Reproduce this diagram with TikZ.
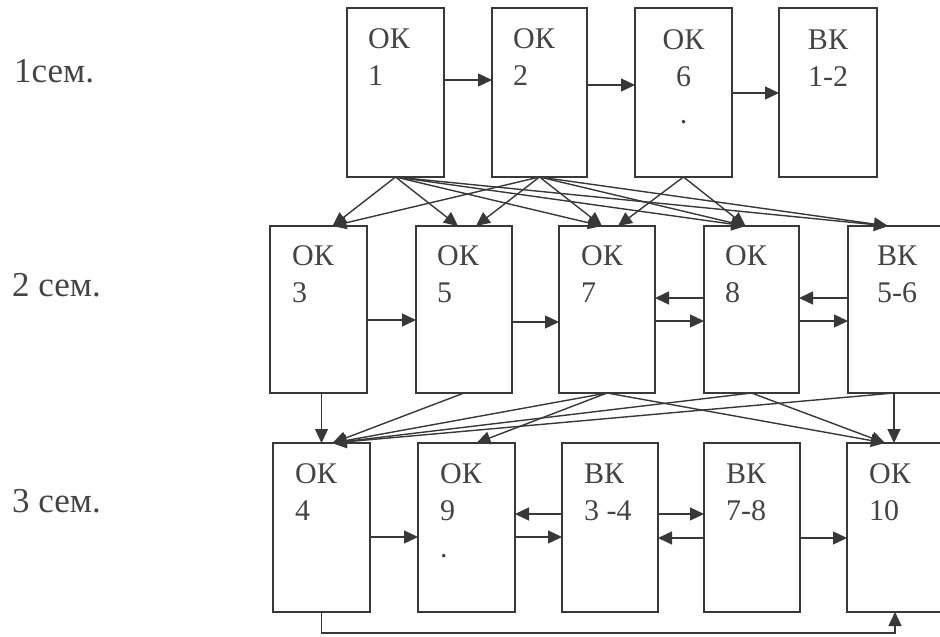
\documentclass[tikz,border=0pt]{standalone}
\usepackage{fontspec}
\setmainfont{Liberation Serif}
\usetikzlibrary{arrows.meta,calc}
\definecolor{linec}{HTML}{383838}
\definecolor{textc}{HTML}{444444}
\newcommand\mylstack[1]{\vtop{\halign{##\hfil\cr#1\crcr}}}
\newcommand\mycstack[1]{\vtop{\halign{\hfil##\hfil\cr#1\crcr}}}
\tikzset{
  cbox/.style={draw=linec, line width=1.6pt, minimum width=#1, minimum height=169pt,
    inner sep=0pt, outer sep=0pt, anchor=north west},
  txt/.style={text=textc, inner sep=0pt, font=\fontsize{30}{37}\selectfont},
  sem/.style={text=textc, inner sep=0pt, anchor=base west, font=\fontsize{35}{40}\selectfont},
  arr/.style={draw=linec, line width=1.4pt, -{Triangle[length=14pt,width=13pt]}},
}
\begin{document}
\begin{tikzpicture}[x=1pt,y=-1pt]
\useasboundingbox (0,0) rectangle (940,637);
\clip (0,0) rectangle (940,637);
% semester labels
\node[sem] (s1) at (14,82) {1сем.};
\node[sem] (s2) at (12,296) {2 сем.};
\node[sem] (s3) at (12,512) {3 сем.};
% row 1
\node[cbox=97pt] (ok1) at (347,8) {};
\node[cbox=95pt] (ok2) at (492,8) {};
\node[cbox=97pt] (ok6) at (635,8) {};
\node[cbox=98pt] (bk12) at (779,8) {};
% row 2
\node[cbox=97pt, minimum height=167pt] (ok3) at (270,226) {};
\node[cbox=96pt, minimum height=167pt] (ok5) at (416,226) {};
\node[cbox=96pt, minimum height=167pt] (ok7) at (559,226) {};
\node[cbox=95pt, minimum height=167pt] (ok8) at (704,226) {};
\node[cbox=96pt, minimum height=167pt] (bk56) at (848,226) {};
% row 3
\node[cbox=97pt] (ok4) at (273,443) {};
\node[cbox=97pt] (ok9) at (418,443) {};
\node[cbox=96pt] (bk34) at (562,443) {};
\node[cbox=96pt] (bk78) at (704,443) {};
\node[cbox=96pt] (ok10) at (847,443) {};
% texts
\node[txt, anchor=base west] (t1) at ([xshift=21pt,yshift=-40pt]ok1.north west) {\mylstack{ОК\cr 1}};
\node[txt, anchor=base west] (t2) at ([xshift=21pt,yshift=-40pt]ok2.north west) {\mylstack{ОК\cr 2}};
\node[txt, anchor=base] (t6) at ([yshift=-41pt]ok6.north) {\mycstack{ОК\cr 6\cr .}};
\node[txt, anchor=base] (t12) at ([yshift=-41pt]bk12.north) {\mycstack{ВК\cr 1-2}};
\node[txt, anchor=base west] (t3) at ([xshift=22pt,yshift=-39pt]ok3.north west) {\mylstack{ОК\cr 3}};
\node[txt, anchor=base west] (t5) at ([xshift=21pt,yshift=-39pt]ok5.north west) {\mylstack{ОК\cr 5}};
\node[txt, anchor=base west] (t7) at ([xshift=22pt,yshift=-39pt]ok7.north west) {\mylstack{ОК\cr 7}};
\node[txt, anchor=base west] (t8) at ([xshift=21pt,yshift=-39pt]ok8.north west) {\mylstack{ОК\cr 8}};
\node[txt, anchor=base west] (t56) at ([xshift=29pt,yshift=-39pt]bk56.north west) {\mylstack{ВК\cr 5-6}};
\node[txt, anchor=base west] (t4) at ([xshift=22pt,yshift=-40pt]ok4.north west) {\mylstack{ОК\cr 4}};
\node[txt, anchor=base west] (t9) at ([xshift=22pt,yshift=-40pt]ok9.north west) {\mylstack{ОК\cr 9\cr .}};
\node[txt, anchor=base west] (t34) at ([xshift=22pt,yshift=-40pt]bk34.north west) {\mylstack{ВК\cr 3 -4}};
\node[txt, anchor=base west] (t78) at ([xshift=22pt,yshift=-40pt]bk78.north west) {\mylstack{ВК\cr 7-8}};
\node[txt, anchor=base west] (t10) at ([xshift=22pt,yshift=-40pt]ok10.north west) {\mylstack{ОК\cr 10}};
% horizontal arrows, row 1
\draw[arr] ([yshift=-72pt]ok1.north east) -- ([yshift=-72pt]ok2.north west);
\draw[arr] ([yshift=-77pt]ok2.north east) -- ([yshift=-77pt]ok6.north west);
\draw[arr] ([yshift=-85pt]ok6.north east) -- ([yshift=-85pt]bk12.north west);
% row 2
\draw[arr] ([yshift=-94pt]ok3.north east) -- ([yshift=-94pt]ok5.north west);
\draw[arr] ([yshift=-96pt]ok5.north east) -- ([yshift=-96pt]ok7.north west);
\draw[arr] ([yshift=-72pt]ok8.north west) -- ([yshift=-72pt]ok7.north east);
\draw[arr] ([yshift=-95pt]ok7.north east) -- ([yshift=-95pt]ok8.north west);
\draw[arr] ([yshift=-72pt]bk56.north west) -- ([yshift=-72pt]ok8.north east);
\draw[arr] ([yshift=-95pt]ok8.north east) -- ([yshift=-95pt]bk56.north west);
% row 3
\draw[arr] ([yshift=-94pt]ok4.north east) -- ([yshift=-94pt]ok9.north west);
\draw[arr] ([yshift=-71pt]bk34.north west) -- ([yshift=-71pt]ok9.north east);
\draw[arr] ([yshift=-94pt]ok9.north east) -- ([yshift=-94pt]bk34.north west);
\draw[arr] ([yshift=-71pt]bk34.north east) -- ([yshift=-71pt]bk78.north west);
\draw[arr] ([yshift=-95pt]bk78.north west) -- ([yshift=-95pt]bk34.north east);
\draw[arr] ([yshift=-95pt]bk78.north east) -- ([yshift=-95pt]ok10.north west);
% row 1 -> row 2
\coordinate (in3) at ([xshift=14pt]ok3.north);
\coordinate (in5a) at ([xshift=-6pt]ok5.north);
\coordinate (in5b) at ([xshift=12pt]ok5.north);
\coordinate (in7a) at ([xshift=-5pt]ok7.north);
\coordinate (in7b) at ([xshift=11pt]ok7.north);
\coordinate (in8) at ([xshift=-6pt]ok8.north);
\coordinate (in56) at ([xshift=-8pt]bk56.north);
\foreach \t in {in3,in5a,in7a,in8,in56} \draw[arr] (ok1.south) -- (\t);
\foreach \t in {in3,in5b,in7a,in8,in56} \draw[arr] (ok2.south) -- (\t);
\foreach \t in {in7b,in8} \draw[arr] (ok6.south) -- (\t);
% row 2 -> row 3
\coordinate (in4) at ([xshift=11pt]ok4.north);
\coordinate (in9) at ([xshift=10pt]ok9.north);
\coordinate (in10) at ([xshift=-10pt]ok10.north);
\coordinate (out3) at ([xshift=3pt]ok3.south);
\coordinate (out56) at ([xshift=-2pt]bk56.south);
\draw[arr] (out3) -- (out3 |- ok4.north);
\foreach \s in {ok5.south,ok7.south,ok8.south,out56} \draw[arr] (\s) -- (in4);
\draw[arr] (ok7.south) -- (in9);
\draw[arr] (ok7.south) -- (in10);
\draw[arr] (ok8.south) -- (in10);
\draw[arr] (out56) -- (out56 |- ok10.north);
% bottom return
\draw[arr] (ok4.south) -- ++(0,21) -| (ok10.south);
\end{tikzpicture}
\end{document}
